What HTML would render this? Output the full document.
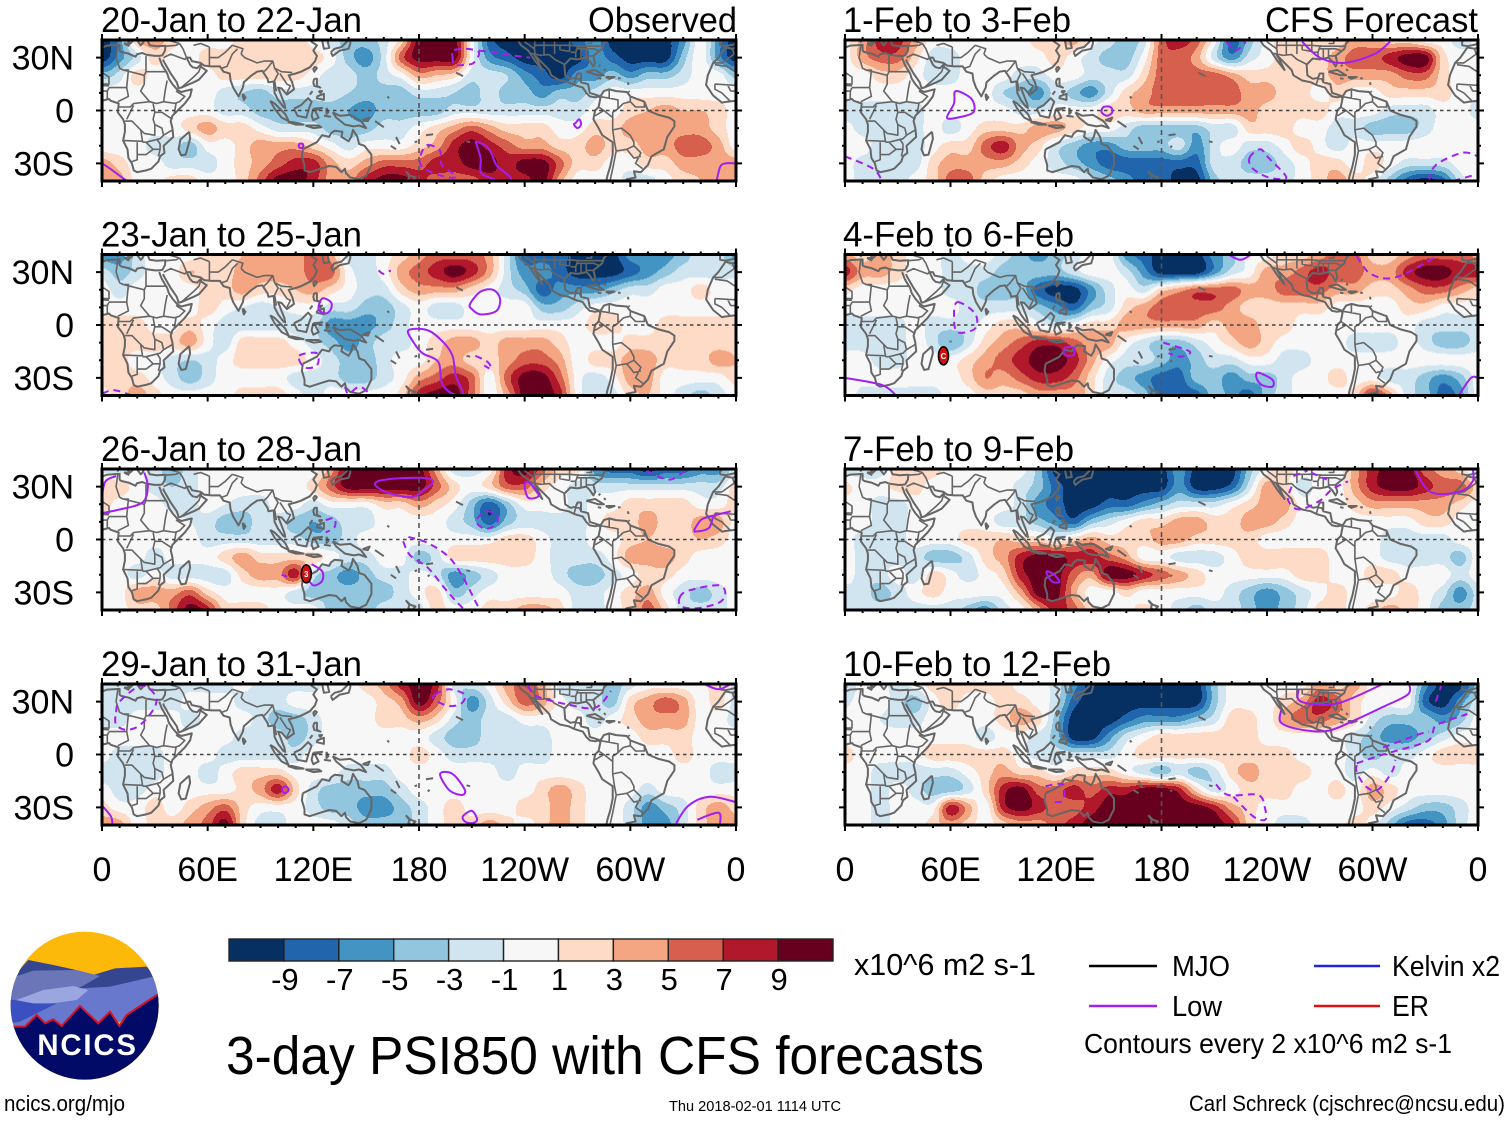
<!DOCTYPE html>
<html lang="en">
<head>
<meta charset="utf-8">
<title>3-day PSI850 with CFS forecasts</title>
<style>
html,body{margin:0;padding:0;background:#fff;width:1510px;height:1121px;overflow:hidden}
svg{display:block}
text{font-family:"Liberation Sans",Arial,sans-serif;fill:#000}
</style>
</head>
<body>
<svg id="chart" xmlns="http://www.w3.org/2000/svg" width="1510" height="1121" viewBox="0 0 1510 1121">
  <rect x="0" y="0" width="1510" height="1121" fill="#fff"/>
  <g id="panels"></g>
  <g id="colorbar"></g>

  <text x="854" y="975" font-size="31" textLength="182" lengthAdjust="spacingAndGlyphs">x10^6 m2 s-1</text>
  <text x="226" y="1074" font-size="54" textLength="758" lengthAdjust="spacingAndGlyphs">3-day PSI850 with CFS forecasts</text>

  <g>
    <line x1="1089" y1="966" x2="1157" y2="966" stroke="#000" stroke-width="2.4"/>
    <text x="1172" y="976" font-size="29" textLength="58" lengthAdjust="spacingAndGlyphs">MJO</text>
    <line x1="1314" y1="966" x2="1380" y2="966" stroke="#2222dd" stroke-width="2.4"/>
    <text x="1392" y="976" font-size="29" textLength="108" lengthAdjust="spacingAndGlyphs">Kelvin x2</text>
    <line x1="1089" y1="1006" x2="1157" y2="1006" stroke="#a020f0" stroke-width="2.4"/>
    <text x="1172" y="1016" font-size="29" textLength="50" lengthAdjust="spacingAndGlyphs">Low</text>
    <line x1="1314" y1="1006" x2="1380" y2="1006" stroke="#e01010" stroke-width="2.4"/>
    <text x="1392" y="1016" font-size="29" textLength="37" lengthAdjust="spacingAndGlyphs">ER</text>
    <text x="1084" y="1053" font-size="28" textLength="368" lengthAdjust="spacingAndGlyphs">Contours every 2 x10^6 m2 s-1</text>
  </g>

  <text x="1189" y="1111" font-size="22" textLength="316" lengthAdjust="spacingAndGlyphs">Carl Schreck (cjschrec@ncsu.edu)</text>
  <text x="4" y="1111" font-size="22" textLength="121" lengthAdjust="spacingAndGlyphs">ncics.org/mjo</text>
  <text x="669" y="1111" font-size="14.5" textLength="172" lengthAdjust="spacingAndGlyphs">Thu 2018-02-01 1114 UTC</text>

  <g transform="translate(0,920) scale(0.3333)">
    <defs><clipPath id="logoClip"><circle cx="254" cy="257" r="222"/></clipPath></defs>
    <g clip-path="url(#logoClip)">
      <rect x="20" y="20" width="480" height="480" fill="#fdb90a"/>
      <polygon fill="#36458f" points="30,180 85,120 160,135 220,148 280,165 345,145 440,140 490,200 490,260 30,260"/>
      <polygon fill="#6b76b8" points="30,175 100,152 230,150 300,168 245,200 30,245"/>
      <polygon fill="#6878cc" points="30,240 240,205 330,200 450,172 490,165 490,240 350,310 30,330"/>
      <polygon fill="#9aa6e0" points="50,240 130,210 220,198 265,210 230,240 120,255"/>
      <polygon fill="#3a4fc0" points="30,238 100,250 170,250 60,305 30,310"/>
      <polygon fill="#010a66" points="30,320 75,320 110,285 135,310 160,298 185,318 240,258 295,310 330,275 358,318 380,285 490,212 490,490 20,490"/>
      <polyline fill="none" stroke="#d8102a" stroke-width="6" points="30,320 75,320 110,285 135,310 160,298 185,318 240,258 295,310 330,275 358,318 380,285 490,212"/>
    </g>
    <text x="112" y="405" font-size="88" font-weight="bold" style="fill:#fff" textLength="296" lengthAdjust="spacing">NCICS</text>
  </g>
</svg>

<script>
// ---------- Chart data (PSI850 anomaly x10^6, rows 40N..40S every 10deg, columns 0..350E every 10deg) ----------
const rowLats = [40,30,20,10,0,-10,-20,-30,-40];

const psiJan20 = [
[-10,-6,3,4,2,0,0,0,2,2,2,2,0,-2,-4,-4,-2,2,10,10,10,0,-8,-10,-10,-10,-10,-8,-6,-10,-10,-10,-10,-6,0,-6],
[-10,-6,-2,2,0,0,2,2,3,2,2,3,2,0,-4,-6,-2,6,10,10,10,0,-6,-8,-10,-10,-10,-10,-6,-8,-10,-10,-10,-4,0,-6],
[-4,-2,2,0,0,0,0,2,2,2,2,2,0,-2,-2,-4,-2,0,4,3,2,-2,-2,-3,-6,-8,-10,-6,-6,-4,-6,-4,-4,-2,0,0],
[0,0,0,0,0,0,0,-2,-3,-4,-2,-2,-2,-2,-3,-4,-4,-4,-2,-2,-3,-4,-2,-4,-4,-6,-4,-4,-2,0,0,0,0,0,0,0],
[0,0,0,0,0,0,0,-2,-2,-4,-4,-4,-4,-4,-5,-6,-4,-4,-4,-4,-2,-2,-2,-2,-2,-2,-2,-2,0,0,2,3,4,3,3,2],
[0,0,0,0,0,2,4,2,2,0,-2,-2,-2,-4,-4,-4,-2,-2,0,2,4,6,4,2,2,2,0,0,2,2,4,4,4,4,4,2],
[0,0,0,-2,-2,-4,0,0,2,4,4,4,2,0,-2,0,0,0,2,4,8,10,8,6,4,4,2,2,4,2,2,4,4,6,6,4],
[4,2,0,0,-2,-2,-2,0,2,4,6,8,8,4,2,4,6,6,6,8,8,10,10,8,10,10,6,2,2,0,0,2,2,4,4,4],
[4,4,0,0,2,2,0,0,2,6,10,10,8,4,4,8,10,10,8,6,6,6,8,8,8,10,4,0,0,0,-2,-2,0,2,3,4]
];
const psiJan23 = [
[-6,-6,-2,0,0,0,2,2,3,4,4,4,6,4,-2,-2,0,2,4,6,6,6,4,-2,-8,-8,-8,-10,-10,-10,-6,-6,-6,-4,-2,-2],
[-2,-4,-2,0,0,3,2,2,4,4,4,4,6,6,0,-2,0,4,6,8,10,8,4,-2,-6,-6,-8,-10,-10,-10,-8,-6,-4,-2,-2,-2],
[0,-2,0,0,0,0,2,2,4,2,2,3,4,2,0,-2,-2,2,4,4,4,2,0,-2,-4,-8,-6,-6,-6,-4,-2,-2,0,0,2,0],
[0,0,0,0,0,0,2,0,-1,-2,-1,0,0,-2,-2,-4,-4,-2,0,-2,-2,0,0,0,0,-4,-4,-2,0,0,0,0,0,0,0,0],
[2,2,2,0,0,2,0,-2,-2,-2,-2,-2,-2,-6,-6,-6,-4,-2,0,0,0,0,0,0,0,0,0,0,2,2,0,0,2,2,2,2],
[2,2,2,2,2,4,0,-2,2,2,2,0,-2,-4,-6,-4,-2,-2,0,2,4,4,2,4,4,4,2,0,0,0,2,2,2,2,2,2],
[3,2,0,0,-2,-3,-2,0,2,2,2,2,0,-2,-4,-4,-2,0,0,3,4,2,2,4,6,6,4,0,2,2,4,4,2,2,2,4],
[2,2,2,0,-2,-4,-2,0,0,0,0,-2,-2,-2,-4,-4,-2,0,4,6,8,6,0,6,10,10,6,0,-2,0,4,4,0,0,0,0],
[0,2,4,2,0,0,0,0,2,2,2,0,-2,0,0,0,0,2,8,10,10,6,0,4,10,10,8,0,-2,-2,2,3,0,-2,-4,-2]
];
const psiJan26 = [
[-2,-2,0,-2,-4,-2,0,0,0,0,0,0,0,4,10,10,10,10,10,4,-2,-2,0,8,10,6,2,2,-6,-8,-8,-10,-8,-8,-6,-6],
[2,2,0,-2,-3,-2,0,0,0,0,0,0,2,6,10,10,10,10,10,6,2,0,2,6,6,2,0,-2,-2,-2,-2,-2,-2,-2,-2,-2],
[2,0,0,0,-2,-2,0,-1,-2,-2,0,0,-2,0,0,0,2,2,4,2,0,-4,-8,-4,0,0,0,-2,0,0,2,2,2,2,0,0],
[0,0,0,0,0,-1,-2,-4,-4,-2,-2,-4,-5,-4,-2,-2,0,0,0,0,-2,-4,-8,-4,-2,-2,-2,-2,0,2,2,4,2,2,4,4],
[0,0,0,0,0,0,-2,-2,-2,-2,-2,-2,-4,-4,-2,0,0,0,0,0,0,0,0,2,2,0,-2,-2,0,0,2,3,2,2,3,2],
[0,0,0,-2,0,0,0,2,4,2,2,2,2,0,-2,-2,0,0,-4,-2,2,2,2,2,2,0,-2,-2,-2,0,4,4,4,2,0,0],
[0,0,-2,0,-2,-2,-2,-2,2,4,4,8,-2,-4,-6,-4,-2,-2,0,-2,-6,-4,-2,0,0,0,-2,-4,-4,-2,0,2,2,0,0,0],
[0,0,4,4,4,6,2,0,0,0,0,-2,-4,-4,-4,-4,-4,-2,0,2,-4,-2,0,0,0,0,0,-2,-2,0,2,4,0,-2,-4,-2],
[0,0,2,2,6,10,8,2,2,2,0,0,0,-4,-4,-4,-2,-2,-2,2,0,0,2,2,4,4,2,-2,-2,0,2,6,2,-2,-2,-2]
];
const psiJan29 = [
[-2,-2,-2,-2,-2,-2,-2,-2,0,-2,-2,-2,-2,0,0,2,4,8,10,8,-2,-2,0,4,6,4,-2,-2,-2,-4,-2,0,0,0,0,2],
[-2,-2,-2,-2,-2,0,0,0,-2,-2,-2,0,0,0,0,0,2,4,10,6,0,-6,-2,2,6,4,0,-2,-2,-4,2,4,6,4,0,2],
[-2,-2,0,0,0,-2,0,0,0,-2,-4,-4,-2,0,0,0,2,2,4,2,-2,-4,-2,-2,0,0,0,0,-2,0,2,4,4,4,0,0],
[0,0,0,0,0,0,0,0,-2,-2,-2,-4,-2,0,0,0,0,0,0,-2,-4,-4,-2,-2,-2,-2,0,0,0,0,0,2,2,2,0,0],
[0,-2,-2,-2,0,0,0,-2,-2,-2,-2,-2,0,0,0,0,0,0,2,0,-2,-2,-2,-2,-2,-2,0,0,0,0,0,0,0,2,0,0],
[-2,-2,-2,-2,0,0,-2,0,2,2,2,0,0,0,-2,-2,-2,0,0,0,0,0,0,-2,0,0,0,0,0,0,0,0,0,0,0,-2],
[0,-2,-2,0,0,0,0,0,2,4,8,2,-2,-4,-4,-4,-4,-2,0,0,0,0,0,0,0,2,4,2,0,0,0,-2,0,0,0,0],
[2,0,0,2,0,2,4,6,2,0,0,0,-2,-4,-4,-6,-6,-4,-2,0,2,0,0,0,2,2,4,2,0,0,-2,-6,-4,-2,2,4],
[4,4,0,2,2,4,6,10,2,-2,-2,0,0,0,-2,-4,-4,-4,-2,0,2,2,4,2,0,2,4,2,0,0,-2,-6,-6,-2,2,4]
];
const psiFeb1 = [
[0,4,8,8,4,0,0,0,0,0,0,2,2,4,0,-2,-4,-2,6,8,6,0,-8,-4,0,2,2,2,2,4,4,2,2,0,0,-2],
[0,4,6,6,2,-2,-2,0,0,0,0,0,2,0,-2,-4,-4,0,6,6,4,-2,-6,-2,0,2,2,2,4,6,6,8,10,10,2,0],
[0,0,2,2,0,-2,-2,0,0,0,-2,-2,0,0,-2,-2,-2,2,6,6,6,6,4,2,2,2,2,2,4,4,4,4,6,6,2,0],
[0,0,0,0,0,0,0,0,0,-3,-4,-6,-2,-4,-6,-2,2,4,6,6,6,6,6,4,4,2,2,0,2,0,0,2,2,2,2,0],
[-2,-2,-2,-2,-2,0,0,0,0,0,-2,-2,0,0,0,2,2,4,4,4,4,4,4,4,2,2,2,2,0,0,0,-2,-2,-2,0,0],
[0,-2,-2,-2,-2,0,-2,0,2,2,2,4,4,2,0,0,-2,-4,-4,-4,-4,-2,-2,2,2,2,0,0,-2,-2,-4,-4,-4,-2,0,0],
[0,0,-2,-2,-2,0,2,2,6,8,4,2,-2,-4,-6,-6,-4,-4,-4,-2,-6,-2,0,-2,-2,0,2,0,-2,0,0,0,0,0,0,0],
[0,-2,-2,-2,-2,2,4,4,4,4,2,0,-2,-4,-6,-8,-8,-8,-8,-8,-8,-2,-2,-4,-4,-2,0,2,2,0,2,0,-2,-2,-2,0],
[0,-2,-2,-2,0,2,6,6,2,0,0,0,0,0,-2,-4,-6,-8,-8,-10,-10,-4,-2,-2,-2,-2,0,2,4,2,0,-4,-8,-10,-8,-2]
];
const psiFeb4 = [
[4,2,4,2,0,0,-2,0,0,-2,-4,-6,-4,-2,0,0,-6,-8,-10,-10,-10,-6,-4,0,0,2,2,4,6,6,2,2,4,6,6,6],
[8,4,4,2,0,0,-2,-2,-2,-4,-4,-4,-4,-2,0,0,-2,-6,-10,-10,-10,-6,-2,0,4,4,6,8,6,6,4,4,8,10,10,8],
[2,0,0,0,0,0,-2,-2,-4,-4,-4,-8,-10,-10,-6,-2,0,-2,2,4,6,6,6,4,4,6,6,6,4,4,2,2,4,6,6,4],
[0,0,0,0,0,0,0,-2,-2,-2,-2,-4,-6,-8,-4,-2,2,4,6,6,6,6,4,2,2,2,2,2,0,0,0,0,2,2,0,0],
[-2,-2,-2,-2,0,-2,-2,-2,0,2,2,0,-2,0,2,2,4,4,4,4,4,2,4,4,2,2,0,0,0,0,0,0,0,-2,-2,-2],
[-2,-2,-2,-2,0,-2,-5,-2,2,4,6,8,8,6,4,4,0,-2,-4,-4,-2,0,2,4,2,0,0,0,0,-2,-2,-2,0,-2,-4,-4],
[0,0,-2,-2,0,0,0,2,4,6,8,10,10,8,4,0,-2,-2,-4,-6,-4,-2,-2,0,0,-2,-2,0,0,0,0,0,0,0,0,0],
[0,0,0,0,0,0,0,2,5,4,6,8,8,6,2,-2,-4,-6,-8,-8,-4,-4,-6,-4,-4,-2,0,0,2,0,0,-2,-2,-4,-6,-4],
[0,-2,-2,-2,-2,-2,0,0,2,2,2,4,4,4,2,-2,-2,-4,-8,-8,-8,-4,-6,-8,-4,-2,0,0,0,2,8,4,-2,-4,-8,-6]
];
const psiFeb7 = [
[-2,-2,-2,2,2,2,0,0,0,0,0,-4,-10,-10,-10,-10,-10,-10,-10,-6,-10,-10,-10,-4,0,2,0,0,0,4,8,10,10,6,4,2],
[2,0,0,2,2,0,0,0,0,0,-2,-4,-8,-10,-10,-10,-10,-10,-10,-6,-10,-10,-8,-2,4,2,-2,0,0,4,8,10,10,8,6,6],
[0,0,-2,-2,0,0,0,0,0,0,-2,-6,-8,-10,-10,-8,-8,-6,-4,-2,-2,-2,0,2,4,4,0,0,0,2,4,4,4,4,4,2],
[0,0,-2,-2,0,0,0,0,0,-2,-2,-4,-6,-8,-4,-2,0,2,2,4,4,2,2,4,4,2,0,0,0,0,0,0,0,2,2,0],
[0,-2,-2,-2,0,0,0,2,2,3,2,2,0,2,4,2,2,2,4,4,2,2,2,2,0,0,0,0,0,0,0,-2,-2,-2,-2,0],
[0,-2,-2,-2,-2,-4,-4,-2,2,4,8,10,10,8,8,6,4,0,0,-2,-2,-2,0,2,2,2,2,2,0,0,0,-2,-2,-2,-2,-4],
[0,-2,-2,0,-2,2,0,-2,0,2,8,10,10,6,4,10,10,8,6,4,2,0,0,0,0,0,2,2,0,0,2,2,0,0,0,-2],
[-2,-2,-4,-2,0,2,0,0,0,0,4,10,10,4,0,0,2,0,0,0,0,0,-2,-4,-6,-4,-2,0,2,0,0,0,2,0,-2,-6],
[-2,-2,-2,-2,-2,-2,-2,-4,-6,-2,0,4,8,6,2,0,0,2,0,-2,-4,-2,-2,-4,-6,-4,-2,2,2,0,2,4,2,0,-4,-4]
];
const psiFeb10 = [
[-4,0,0,-2,0,2,2,2,2,2,0,0,-2,-6,-10,-10,-10,-10,-10,-10,-10,-4,0,0,0,0,0,4,2,4,0,0,0,-6,-10,-10],
[-2,0,0,-2,-4,0,2,0,0,2,2,0,-2,-8,-10,-10,-10,-10,-10,-10,-10,-4,0,0,0,2,4,8,6,2,0,0,0,-8,-10,-6],
[0,0,-1,-2,-2,0,0,0,0,2,4,2,-4,-10,-10,-10,-8,-6,-6,-6,-4,-2,2,2,0,4,6,6,4,2,-2,-4,-4,-4,-6,-4],
[0,0,0,0,0,0,0,0,-2,0,0,-2,-4,-10,-10,-6,-2,0,2,2,2,2,2,2,0,0,0,0,0,-2,-4,-6,-6,-4,-2,0],
[2,0,0,0,0,2,2,2,2,2,0,-2,-2,-2,-2,-2,0,2,2,2,2,2,2,2,2,2,0,0,0,-2,-4,-2,-2,0,2,2],
[0,0,-2,-2,-2,-2,-2,0,2,4,2,2,0,2,2,2,0,-2,-4,-2,-4,-2,2,4,2,2,2,0,0,-2,0,-2,0,0,0,0],
[0,0,-2,0,-2,-4,-4,-2,2,8,10,6,6,8,6,8,8,10,10,8,2,-2,0,2,2,2,0,0,2,0,4,2,0,0,0,0],
[0,0,-2,0,0,0,8,4,0,8,10,8,6,6,8,10,10,10,10,10,10,8,4,2,0,0,0,0,0,0,2,0,-2,-4,-4,-2],
[0,0,-2,0,0,2,4,2,0,2,4,4,6,8,10,10,10,10,10,10,10,10,8,2,0,-2,-2,0,0,2,0,-4,-8,-8,-6,-2]
];
const psiGrids = [psiJan20,psiJan23,psiJan26,psiJan29,psiFeb1,psiFeb4,psiFeb7,psiFeb10];

// Low-frequency contours (lon, lat), per panel
const lowSolid = [
 [[[269,-7],[271,-5],[272,-8],[270,-10],[268,-8],[269,-7]],[[112,-19],[114,-19],[114,-21],[112,-21],[112,-19]],[[212,-17.5],[218,-20],[221,-24],[224,-31],[231,-37],[233,-40]],[[212,-17.5],[215,-27],[215,-35],[220,-38],[226,-40]],[[0,-30],[6,-34],[14,-40]],[[349,-40],[351,-32],[354,-30],[360,-30]]],
 [[[125,15],[130,13],[130,9],[127,6.5],[123,9],[125,15]],[[209,12],[215,19],[222,20],[226,15],[224,8],[215,6],[210,9],[209,12]],[[174,-3],[185,-3],[194,-10],[199,-17.5],[201,-29],[205,-39],[199,-39],[193,-33],[191,-21],[182,-16],[177,-10],[174,-3]]],
 [[[0,15],[10,17],[23,21],[26,30],[24,38]],[[0,25],[2,33],[8,36]],[[155,31.5],[161,34],[180,35],[188,33],[182,27.5],[175,24],[161,27],[155,31.5]],[[240,31.5],[243,32],[248,25],[242,23.7],[240,31.5]],[[336,5],[340,11],[345,13],[357,16]],[[336,4.5],[341,5],[345,7],[347,13]],[[119,-14],[125,-18],[125,-23.5],[120,-26],[116,-21]]],
 [[[192,-11],[199,-11],[206,-20],[204,-23],[197,-20],[192,-11]],[[205,-35],[210,-32],[213,-37],[210,-39],[206,-38],[205,-35]],[[326,-39],[333,-29],[345,-24],[360,-27]],[[338,-37],[350,-33],[351,-39]],[[0,-29],[5,-35],[6,-40]],[[342,40],[350,37],[357,40]],[[102,-20],[104,-18],[106,-20],[104,-22],[102,-20]]],
 [[[63,11],[72,6.5],[73,-1],[64,-4],[58,-4],[62,4],[63,11]],[[147,2],[151,2],[152,-1],[149,-3],[146,-1],[147,2]],[[260,39],[270,30],[284,27],[301,32],[310,39]]],
 [[[0,-30],[21,-34],[29,-40]],[[235,-27],[243,-31],[243,-35],[237,-34],[234,-30],[235,-27]],[[349,-40],[356,-30],[360,-30]],[[125,-13],[130,-13],[130,-17],[125,-17],[125,-13]],[[218,40],[225,37],[231,40]]],
 [[[115,-18],[119,-20],[122,-24],[118,-24],[115,-20],[115,-18]],[[324,40],[333,27],[349,27],[357,33],[357,40]]],
 [[[248,25],[248,18],[260,14],[275,13.5],[291,20],[306,27],[320,34],[321,40]],[[258,37],[258,31],[267,28.5],[282,29.5],[306,40]]]
];
const lowDashed = [
 [[[199,31],[200,26],[206,26],[211,27],[214,33],[207,35],[199,34],[199,31]],[[214,34],[222,33],[235,31],[243,30]],[[185,-19.5],[192,-23],[193,-31],[201,-37],[197,-38],[187,-35],[181,-31],[181,-25],[185,-19.5]]],
 [[[157,31],[160,29],[164,31]],[[112,-17.5],[122,-16],[122,-23],[115,-24],[112,-17.5]],[[212,-17.5],[219,-21],[221,-25],[217,-23]],[[138,-35],[140,-39],[146,-35],[151,-38]],[[0,-39],[7,-37],[17,-40]]],
 [[[102,-20],[105,-21]],[[127,11],[132,12],[132,7],[127,4]],[[213,12],[218,16],[224,14],[224,9],[218,6],[213,9],[213,12]],[[171,-1],[175,-9],[185,-16],[194,-27],[201,-35],[206,-40]],[[174,1.5],[185,-2],[197,-10],[205,-21.5],[213,-37],[215,-40]],[[328,-33],[333,-29],[350,-26],[354,-31],[350,-36],[338,-39],[329,-38],[328,-33]],[[309,39],[322,34],[331,39]]],
 [[[8,24],[10,30],[22,39],[30,34],[30,27],[22,17],[14,14],[8,17],[8,24]],[[189,34],[197,37],[206,34],[204,29],[197,27.5],[189,31],[189,34]],[[242,39],[247,33],[264,28.5],[280,26.5],[289,36]]],
 [[[217,39],[222,34],[228,39]],[[230,-27],[236,-22],[241,-27],[251,-38],[241,-38],[232,-33],[230,-27]],[[332,-40],[336,-31],[351,-24],[360,-26]],[[346,-40],[360,-36]],[[0,-26],[16,-33],[21,-40]]],
 [[[64,13],[74,6.5],[74,-2],[64,-4],[62,5],[64,13]],[[181,-10],[196,-15],[191,-18],[184,-16]],[[291,39],[299,29],[313,27],[335,38]]],
 [[[254,30],[252,22.5],[258,17],[270,22],[277,28.5],[286,33]],[[255,36],[263,39]],[[265,38],[274,34]]],
 [[[291,-6],[291,-10],[296,-18],[303,-20],[311,-10],[313,-3]],[[291,-5],[306,0],[330,7],[334,12],[337,17],[354,23]],[[306,4],[325,11],[332,13]],[[336,30],[339,39]],[[211,-17],[218,-23],[235,-23],[239,-31],[239,-37],[232,-35],[220,-23]],[[114,-18],[124,-17],[124,-26],[119,-27]]]
];

// Tick labels, panel titles and colorbar levels
const xTickLons = [0,60,120,180,240,300,360];
const xTickLabels = ['0','60E','120E','180','120W','60W','0'];
const yTickLats = [30,0,-30];
const yTickLabels = ['30N','0','30S'];
const panelTitles = ['20-Jan to 22-Jan','23-Jan to 25-Jan','26-Jan to 28-Jan','29-Jan to 31-Jan','1-Feb to 3-Feb','4-Feb to 6-Feb','7-Feb to 9-Feb','10-Feb to 12-Feb'];
const levelLabels = [-9,-7,-5,-3,-1,1,3,5,7,9];
const levelColors = ['#053061','#2166ac','#4393c3','#92c5de','#d1e5f0','#f7f7f7','#fddbc7','#f4a582','#d6604d','#b2182b','#67001f'];

// ---------- Geography (lon, lat) ----------
const coastlines = [
 [[-6,35.8],[-2,35],[3,36.8],[10,37.2],[10,34],[11,33.2],[15,32.3],[19,30.5],[20,32],[23,32.6],[25,31.7],[30,31],[32.5,31],[34.3,31.3],[35.8,34],[36,36.7],[31,36.5],[27,37],[26,39.5],[29,41]],
 [[32.5,30],[34,26],[37,21],[38,18],[40,15],[43,11.5],[45,10.5],[51,12],[50,8],[47,4],[43,0],[40,-3],[39,-6],[40,-10],[40.5,-15],[35,-20],[35.5,-24],[33,-26],[32,-29],[28,-33],[25,-34],[20,-35],[18,-34],[17,-30],[15,-27],[14.5,-22],[12,-17],[13,-12],[13,-8],[12,-5],[9,-1],[9.5,4],[5,5.5],[4,6.5],[0,5.5],[-5,5],[-8,4.5],[-13,8.5],[-17,14.5],[-16,20],[-13,27],[-10,30],[-6,35.8]],
 [[49.5,-12],[50,-16],[47.5,-25],[45,-25.5],[43.5,-22],[44.5,-16.5],[49.5,-12]],
 [[34.8,29],[35,28],[39,21],[42.5,16],[43.5,12.7],[45,13],[52,16],[55,17.5],[59.5,22.5],[56.5,24.5],[56,26],[54,24],[51.5,24.5],[50,26],[48,30],[50,30],[51,28],[56,27],[58,25.5],[62,25],[67,25],[69,22],[72.5,21],[73,17],[74.5,13],[77.5,8],[80,13],[80.5,16],[85,20],[88,22],[91,22.5],[94,18],[94.5,16],[97.5,16.5],[98,10],[100,6],[103,2],[104,1.5],[103.5,4],[100,13],[102,12.5],[105,9],[109,12],[108,16],[106,20],[110,21],[113,22],[118,24.5],[121,28],[122,31],[120,34],[122,37],[119,39],[121,41]],
 [[125,40],[126,35],[129,35.5],[128,40],[130,42]],
 [[0,39],[-1,37.5],[-6,36.5],[-9,37],[-9,42]],[[0,39],[3,42]],[[10,44],[13,41],[16,38],[18,40],[13,45]],[[19,41],[22,37],[23,38],[24,40],[27,41]],
 [[12.5,38],[15.5,38],[15,36.7],[12.5,38]],[[8.5,41],[9.7,40],[9,39],[8.5,41]],
 [[80,9.5],[81.5,7.5],[80.5,6],[80,8],[80,9.5]],
 [[95.5,5.5],[98,4],[104,-2],[106,-6],[102,-4],[98,1],[95.5,5.5]],
 [[105.5,-6.5],[108,-6.5],[114.5,-8],[110,-8],[105.5,-6.5]],
 [[115.5,-8.5],[119,-8.5],[123,-8.5],[124.5,-9.5],[120,-10],[115.5,-8.5]],
 [[109,1],[113,3],[117,7],[119,5],[117.5,1],[116,-4],[111,-3],[109,1]],
 [[120,1],[125,1.5],[121,0],[123,-4],[120,-5.5],[119,-3],[120,1]],
 [[131,-1],[135,-3],[141,-2.5],[147,-6],[150,-10],[146,-8.5],[143,-9],[138,-8],[133,-4],[131,-1]],
 [[127.5,1.5],[128.5,-1],[127.5,-2],[127.5,1.5]],[[126,-3],[130,-3.5]],[[148,-5.5],[152,-4],[151,-6],[148,-5.5]],
 [[120.5,18],[122,18],[122,14],[124,13],[120.5,14],[120,16],[120.5,18]],[[122,8],[126,9.5],[126,6],[122,7],[122,8]],[[118,9],[119.5,11]],[[123,11],[125,11],[124,10],[123,11]],
 [[121,25],[122,24],[120.5,22],[120,23.5],[121,25]],
 [[130,33],[131,31],[135,34],[140,35],[141,38],[141,41],[140,40],[136,36],[132,35],[130,33]],
 [[114,-22],[113.5,-26],[115,-31],[115,-34],[118,-35],[124,-33],[129,-31.5],[133,-32],[136,-35],[138,-33],[138.5,-35.5],[141,-38],[146,-39],[150,-37],[153,-31],[153,-25],[149,-20],[146,-19],[145,-15],[142.5,-11],[141.5,-15],[140,-17.5],[136,-15],[136.5,-12],[132,-11.5],[130,-13],[129,-15],[125,-14],[122,-18],[118,-20],[114,-22]],
 [[172.5,-34.5],[175,-37],[178,-38],[176,-40],[174,-39],[174.5,-37],[172.5,-34.5]],
 [[155,-6],[160,-9.5]],[[167,-15],[169,-19]],[[164,-20],[167,-22]],[[177.5,-18],[179,-17.5]],[[201,21.5],[205,19.5]],[[184,-14],[188,-13.5]],[[185,-21],[186,-20]],[[162,8],[163,7]],[[207,-17.5],[209,-18]],
 [[-124,40],[-122,37],[-118,34],[-117,32.5],[-114,28],[-110,23],[-111,25],[-113,29],[-114.5,31.5],[-110,27],[-106,23],[-105,20],[-100,17],[-95,16],[-92,14.5],[-87,13],[-85,10],[-83,8],[-80,7.5],[-78,8],[-77,7],[-78,2],[-80,0],[-81,-5],[-78,-10],[-76,-14],[-70,-18],[-70,-25],[-71.5,-32],[-73,-37],[-74,-42]],
 [[-77,8],[-75,11],[-72,12],[-68,11],[-62,10.5],[-60,8],[-52,5],[-50,0],[-44,-2.5],[-38,-4],[-35,-6],[-35,-9],[-39,-15],[-41,-22],[-48,-26],[-50,-31],[-54,-35],[-58,-34.5],[-57,-38],[-62,-39],[-65,-42]],
 [[-77,8],[-80,9],[-83,10],[-84,15],[-88,16],[-88,21],[-90,21],[-91,18.5],[-94,18],[-97,20],[-97.5,26],[-94,29.5],[-90,29],[-85,30],[-83,28],[-81,25],[-80,27],[-81,31],[-76,35],[-75,38],[-72,41]],
 [[-85,22],[-80,23],[-75,20],[-78,20],[-85,22]],[[-74,19],[-69,19],[-72,18],[-74,19]],[[-78.5,18.3],[-76.5,18]],[[-67,18.3],[-65.5,18.2]],[[-78,25],[-77,26]],[[-75,23.5],[-74,22.5]],[[-61.5,16],[-61,14.5]],[[-61,11],[-60.5,10.3]]
];
const borders = [
 [[-2,35],[-1,32],[-8,27],[-13,27]],[[9,37],[8,30],[10,24],[12,23],[24,20],[25,22],[25,31]],[[25,22],[37,22]],[[24,20],[24,15],[22,11],[27,5],[31,4],[35,5],[42,4],[41,-2]],
 [[12,23],[15,23],[14,13],[15,8],[9,5]],[[4,13],[3,11],[3,6.5]],[[-1,15],[4,15],[4,19],[-5,25],[-12,26]],[[-12,15],[4,14]],[[14,13],[4,13]],[[35,5],[36,12],[37,17]],[[42,11],[47,8],[44,5],[41,4]],
 [[34,-1],[40,-5]],[[29,4],[30,-1],[29,-5],[30,-8],[34,-10],[35,-14],[40,-11]],[[13,-6],[17,-6],[22,-11],[24,-13],[30,-14],[30,-8]],[[12,-17],[23,-17.5],[22,-11]],[[23,-18],[25,-18],[33,-16],[35,-14]],
 [[20,-18],[20,-28],[17,-29]],[[20,-25],[25,-25],[29,-22],[33,-22],[32,-26]],[[25,-18],[29,-22]],[[31,-16],[33,-19],[33,-22]],[[9,2],[16,2],[18,4],[27,5]],[[14,-5],[18,3]],[[30,-1],[34,-1]],[[-3,11],[3,11]],[[-8,10],[-3,5]],[[-8,10],[-12,12],[-12,15]],[[-3,11],[-5,15]],
 [[35,30],[39,32],[47,29],[48,30]],[[45,13],[52,19],[55,22],[56,25]],[[48,30],[46,35],[44,38]],[[36,36.5],[42,37],[44,38]],[[61,25],[61,30],[66,30],[70,33],[74,37]],[[61,30],[61,36]],
 [[68,24],[71,25],[74,32],[77,35]],[[79,32],[81,30],[88,27],[92,28],[97,28],[94,24],[92,22]],[[98,24],[100,21],[98,17],[99,11]],[[97,28],[98,24],[102,22],[108,21.5]],[[101,21],[105,15],[107,14],[105,10]],[[74,37],[80,35],[79,32]],[[52,37],[56,38],[61,36]],[[37,40],[44,38]],
 [[-78,2],[-75,0],[-70,-4],[-70,-11],[-69,-18]],[[-72,12],[-72,7],[-67,6],[-67,1],[-70,-1],[-70,-4]],[[-60,8],[-60,5],[-64,4],[-67,1]],[[-60,5],[-57,2],[-52,2],[-52,5]],[[-70,-11],[-65,-10],[-60,-14],[-58,-18],[-58,-20],[-54,-24],[-57,-30],[-53,-33]],[[-69,-18],[-68,-23],[-70,-33],[-72,-42]],[[-68,-23],[-62,-22],[-58,-20]],[[-62,-22],[-58,-27],[-54,-26]],[[-80,-3],[-75,0]],[[-78,8],[-72,7]],
 [[-117,32.5],[-111,31.3],[-106,31.7],[-103,29],[-99,27],[-97,26]],[[-92,14.5],[-91,18],[-89,18],[-88,16]],
 [[-120,39],[-114.5,35],[-114,32]],[[-114.5,35],[-114,42]],[[-109,31.5],[-109,41]],[[-103,32],[-103,41]],[[-100,37],[-100,34.5],[-94.5,33.5]],[[-94.5,33.5],[-94.5,41]],[[-91,33],[-90,36],[-89,37]],[[-94,33],[-91,33],[-91,30]],[[-88,30],[-88,35]],[[-85,30],[-85,35]],
 [[-114,37],[-94.5,37],[-89,36.5],[-75.5,36.5]],[[-90,35],[-84,35],[-81,35],[-78,34]],[[-85,31],[-81,31]],[[-114,41],[-102,41]],[[-102,40],[-75,40]],[[-85,38],[-82,38],[-82,40]],[[-120,42],[-120,39]]
];

// ---------- Rendering ----------
const svg = document.getElementById('chart');
const NS = 'http://www.w3.org/2000/svg';
const panelWidth = 634, panelHeight = 141;
const panelCols = [102, 845];
const panelRowTops = [40, 254.5, 469, 684];

function make(tag, parent, attrs) {
  const el = document.createElementNS(NS, tag);
  for (const k in attrs) el.setAttribute(k, attrs[k]);
  parent.appendChild(el);
  return el;
}
function xOf(box, lon) { return box.x + lon / 360 * box.w; }
function yOf(box, lat) { return box.y + (40 - lat) / 80 * box.h; }
function levelIndex(v) {
  let i = 0;
  while (i < levelLabels.length && v >= levelLabels[i]) i++;
  return i;
}
function cubic(a, b, c, d, t) {
  return b + 0.5 * t * (c - a + t * (2 * a - 5 * b + 4 * c - d + t * (3 * (b - c) + d - a)));
}
function fieldPaths(box, grid) {
  const nRow = rowLats.length, nCol = grid[0].length;
  const parts = levelColors.map(() => []);
  const H = Math.round(box.h), W = Math.round(box.w);
  const line = new Array(nCol);
  for (let py = 0; py < H; py++) {
    const lat = 40 - (py + 0.5) / H * 80;
    const rf = (rowLats[0] - lat) / (rowLats[0] - rowLats[1]);
    const r1 = Math.min(nRow - 2, Math.max(0, Math.floor(rf)));
    const rt = rf - r1;
    const r0 = Math.max(0, r1 - 1), r2 = r1 + 1, r3 = Math.min(nRow - 1, r1 + 2);
    for (let c = 0; c < nCol; c++) line[c] = cubic(grid[r0][c], grid[r1][c], grid[r2][c], grid[r3][c], rt);
    let start = 0, cur = -1;
    for (let px = 0; px <= W; px++) {
      let idx = -2;
      if (px < W) {
        const cf = (px + 0.5) / W * nCol;
        const c1 = Math.floor(cf) % nCol;
        const t = cf - Math.floor(cf);
        idx = levelIndex(cubic(line[(c1 - 1 + nCol) % nCol], line[c1], line[(c1 + 1) % nCol], line[(c1 + 2) % nCol], t));
      }
      if (idx !== cur) {
        if (cur >= 0) parts[cur].push('M' + (box.x + start) + ' ' + (box.y + py) + 'h' + (px - start) + 'v1h' + (start - px) + 'z');
        start = px;
        cur = idx;
      }
    }
  }
  return parts.map(p => p.join(''));
}
function polyD(box, lines) {
  let d = '';
  for (const line of lines) {
    for (const shift of [0, 360]) {
      d += line.map((p, i) => (i ? 'L' : 'M') + xOf(box, p[0] + shift).toFixed(1) + ' ' + yOf(box, p[1]).toFixed(1)).join('');
    }
  }
  return d;
}
function smoothD(box, lines) {
  let d = '';
  for (const line of lines) {
    const pts = line.map(p => [xOf(box, p[0]), yOf(box, p[1])]);
    const n = pts.length;
    const closed = n > 3 && line[0][0] === line[n - 1][0] && line[0][1] === line[n - 1][1];
    const at = k => {
      if (closed) return pts[((k % (n - 1)) + (n - 1)) % (n - 1)];
      return pts[Math.max(0, Math.min(n - 1, k))];
    };
    d += 'M' + pts[0][0].toFixed(1) + ' ' + pts[0][1].toFixed(1);
    for (let k = 0; k < n - 1; k++) {
      const p0 = at(k - 1), p1 = at(k), p2 = at(k + 1), p3 = at(k + 2);
      d += 'C' + (p1[0] + (p2[0] - p0[0]) / 6).toFixed(1) + ' ' + (p1[1] + (p2[1] - p0[1]) / 6).toFixed(1) + ' ' +
           (p2[0] - (p3[0] - p1[0]) / 6).toFixed(1) + ' ' + (p2[1] - (p3[1] - p1[1]) / 6).toFixed(1) + ' ' +
           p2[0].toFixed(1) + ' ' + p2[1].toFixed(1);
    }
  }
  return d;
}
function panelTitleWidth(i) {
  return { 4: 228, 5: 231, 6: 231, 7: 268 }[i] || 261;
}

const panelsG = document.getElementById('panels');
psiGrids.forEach((grid, i) => {
  const col = i < 4 ? 0 : 1;
  const box = { x: panelCols[col], y: panelRowTops[i % 4], w: panelWidth - col, h: panelHeight };
  const g = make('g', panelsG, {});
  
  

  const clip = make('clipPath', g, { id: 'clip' + i });
  
  
  make('rect', clip, { x: box.x, y: box.y, width: box.w, height: box.h });

  const inner = make('g', g, { 'clip-path': 'url(#clip' + i + ')' });
  
  

  // filled contours
  const fills = fieldPaths(box, grid);
  fills.forEach((d, k) => {
    if (!d) return;
    const p = make('path', inner, { d: d, fill: levelColors[k], 'shape-rendering': 'crispEdges' });
    
    
  });

  // map
  const coast = make('path', inner, { d: polyD(box, coastlines), fill: 'none', stroke: '#666', 'stroke-width': 2, 'stroke-linejoin': 'round' });
  
  
  const bord = make('path', inner, { d: polyD(box, borders), fill: 'none', stroke: '#666', 'stroke-width': 1.6, 'stroke-linejoin': 'round' });
  
  

  // reference lines
  const eq = make('line', inner, { x1: box.x, x2: box.x + box.w, y1: yOf(box, 0), y2: yOf(box, 0), stroke: '#444', 'stroke-width': 1.4, 'stroke-dasharray': '3.5 3.5' });
  
  
  const dl = make('line', inner, { x1: xOf(box, 180), x2: xOf(box, 180), y1: box.y, y2: box.y + box.h, stroke: '#555', 'stroke-width': 1.6, 'stroke-dasharray': '5 4' });
  
  

  // low-frequency contours
  const ls = make('path', inner, { d: smoothD(box, lowSolid[i]), fill: 'none', stroke: '#a020f0', 'stroke-width': 2, 'stroke-linejoin': 'round' });
  
  
  const ld = make('path', inner, { d: smoothD(box, lowDashed[i]), fill: 'none', stroke: '#a020f0', 'stroke-width': 2, 'stroke-dasharray': '7 5', 'stroke-linejoin': 'round' });
  
  

  // cyclone markers
  if (i === 2 || i === 5) {
    const lon = i === 2 ? 116 : 56, lat = i === 2 ? -19.5 : -17.5;
    const cy = make('ellipse', inner, { cx: xOf(box, lon), cy: yOf(box, lat), rx: 5, ry: 9, fill: '#d01010', stroke: '#000', 'stroke-width': 1.6 });
    
    
    const ct = make('text', inner, { x: xOf(box, lon), y: yOf(box, lat) + 3, 'font-size': 8, 'text-anchor': 'middle', 'font-weight': 'bold', style: 'fill:#fff' });
    
    
    ct.textContent = i === 2 ? '3' : 'C';
  }

  // frame
  const frame = make('rect', g, { x: box.x, y: box.y, width: box.w, height: box.h, fill: 'none', stroke: '#000', 'stroke-width': 3 });
  
  

  // ticks
  let td = '';
  for (let lon = 0; lon <= 360; lon += 10) {
    const len = lon % 60 === 0 ? 6 : 3;
    const x = xOf(box, lon);
    td += 'M' + x + ' ' + box.y + 'v' + (-len) + 'M' + x + ' ' + (box.y + box.h) + 'v' + len;
  }
  for (let lat = -30; lat <= 30; lat += 10) {
    const len = lat % 30 === 0 ? 6 : 3;
    const y = yOf(box, lat);
    td += 'M' + box.x + ' ' + y + 'h' + (-len) + 'M' + (box.x + box.w) + ' ' + y + 'h' + len;
  }
  const ticks = make('path', g, { d: td, stroke: '#000', 'stroke-width': 2, fill: 'none' });
  
  

  // titles
  const title = make('text', g, { x: col ? box.x - 2 : box.x - 1, y: box.y - 8, 'font-size': 35, textLength: panelTitleWidth(i), lengthAdjust: 'spacingAndGlyphs' });
  
  
  title.textContent = panelTitles[i];
  if (i === 0 || i === 4) {
    const tag = make('text', g, { x: box.x + box.w - (i === 0 ? 148 : 213), y: box.y - 8, 'font-size': 35, textLength: i === 0 ? 149 : 213, lengthAdjust: 'spacingAndGlyphs' });
    
    
    tag.textContent = i === 0 ? 'Observed' : 'CFS Forecast';
  }

  // y labels on left column
  if (col === 0) {
    yTickLats.forEach((lat, k) => {
      const t = make('text', g, { x: 74, y: yOf(box, lat) + 12, 'font-size': 34, 'text-anchor': 'end' });
      
      
      t.textContent = yTickLabels[k];
    });
  }
  // x labels on bottom row
  if (i % 4 === 3) {
    xTickLons.forEach((lon, k) => {
      const t = make('text', g, { x: xOf(box, lon), y: 881, 'font-size': 34, 'text-anchor': 'middle' });
      
      
      t.textContent = xTickLabels[k];
    });
  }
});

// colorbar
const cbG = document.getElementById('colorbar');
const cbX = 229, cbW = 604, cbY = 939, cbH = 22;
const boxW = cbW / levelColors.length;
levelColors.forEach((c, k) => {
  const r = make('rect', cbG, { x: cbX + k * boxW, y: cbY, width: boxW, height: cbH, fill: c, stroke: '#222', 'stroke-width': 1.4 });
  
  
});
levelLabels.forEach((v, k) => {
  const t = make('text', cbG, { x: cbX + (k + 1) * boxW + 1, y: 990, 'font-size': 31, 'text-anchor': 'middle' });
  
  
  t.textContent = String(v);
});
</script>
</body>
</html>
